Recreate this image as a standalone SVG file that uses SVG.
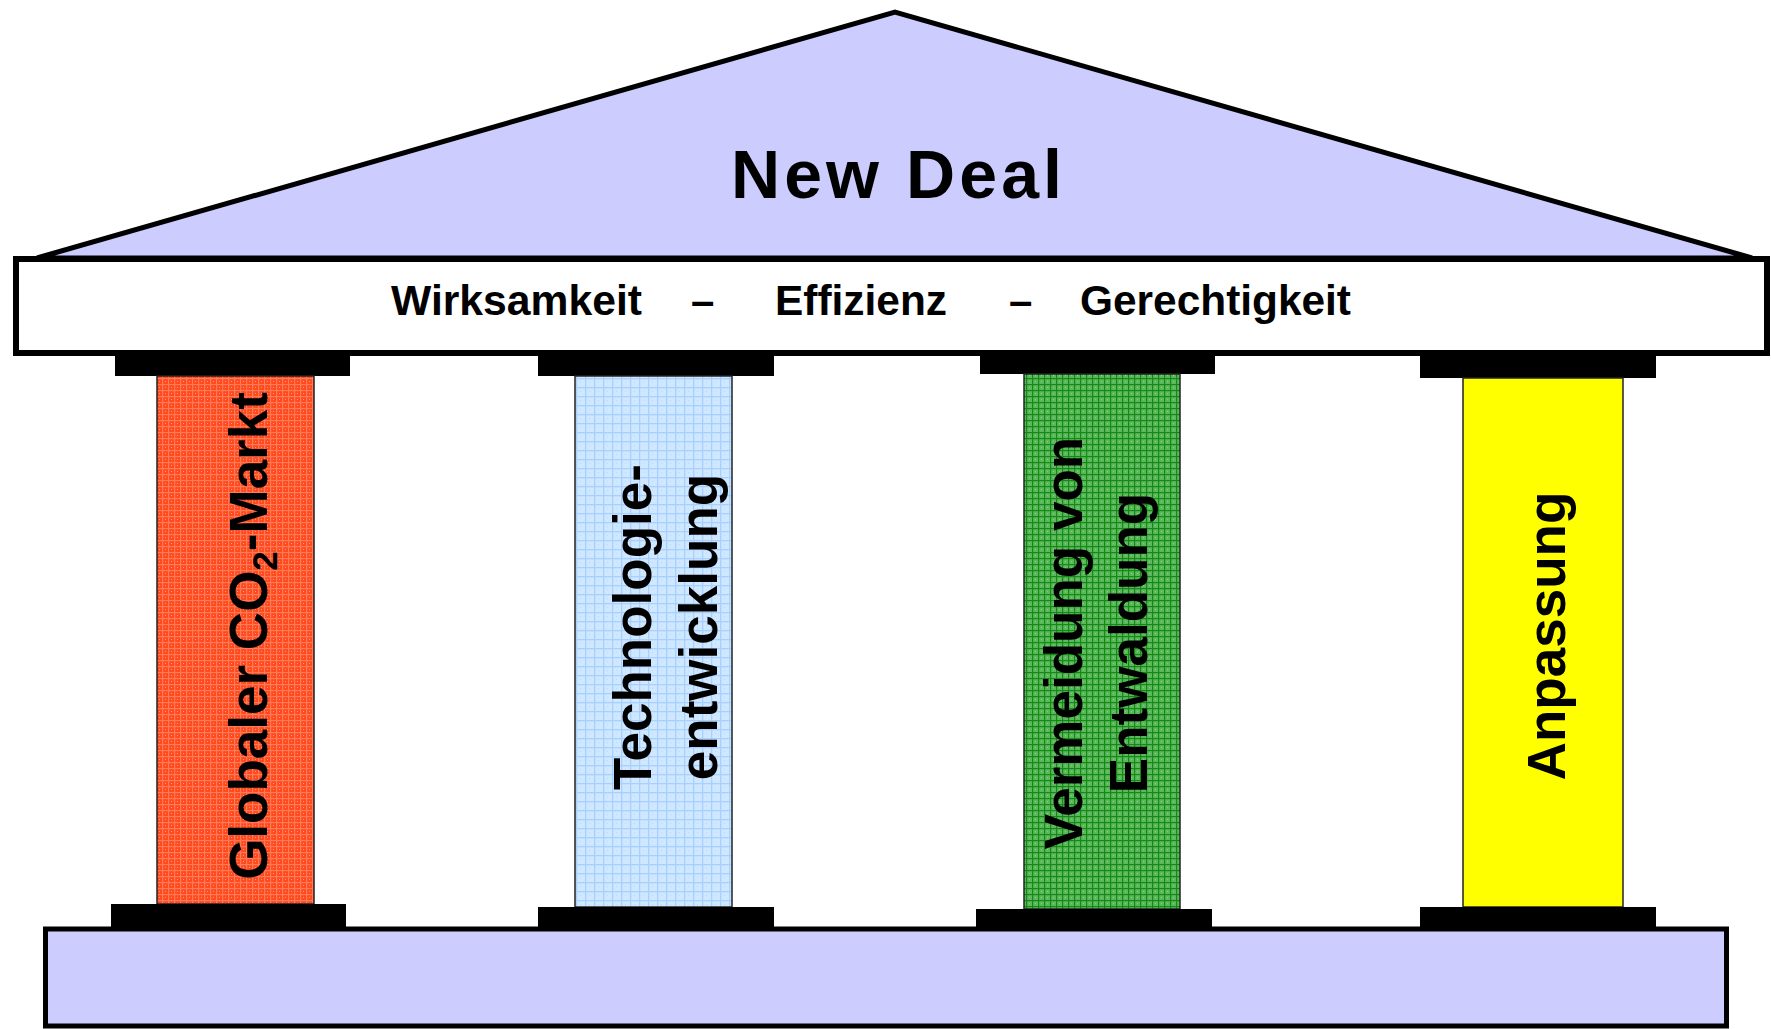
<svg xmlns="http://www.w3.org/2000/svg" width="1771" height="1029" viewBox="0 0 1771 1029">
<style>
.t{font-family:"Liberation Sans",Arial,sans-serif;font-weight:bold;fill:#000}
.col{stroke:#222;stroke-width:1.5}
.blk{fill:#000}
.lilac{fill:#CCCCFF;stroke:#000;stroke-width:5}
</style>
<defs>
<pattern id="pRed" width="6" height="6" patternUnits="userSpaceOnUse">
<rect width="6" height="6" fill="#FF4A1E"/>
<rect x="0" y="0" width="6" height="1.2" fill="#FF7A58"/>
<rect x="0" y="0" width="1.2" height="6" fill="#FF7A58"/>
<rect x="3" y="3" width="1" height="1" fill="#FF9A80"/>
</pattern>
<pattern id="pBlue" width="9" height="9" patternUnits="userSpaceOnUse">
<rect width="9" height="9" fill="#CFE7FF"/>
<rect x="0" y="0" width="9" height="1.3" fill="#A8D0FF"/>
<rect x="0" y="0" width="1.3" height="9" fill="#A8D0FF"/>
<rect x="4" y="4" width="1" height="1" fill="#B8DAFF"/>
</pattern>
<pattern id="pGreen" width="6" height="6" patternUnits="userSpaceOnUse">
<rect width="6" height="6" fill="#5CB85C"/>
<rect x="0" y="0" width="6" height="1.2" fill="#138A13"/>
<rect x="0" y="0" width="1.2" height="6" fill="#138A13"/>
<rect x="3" y="3" width="1" height="1" fill="#88CC88"/>
</pattern>
</defs>

<g id="roof">
<polygon class="lilac" stroke-width="6" points="37,258 895,12 1752,258"/>
<text class="t" x="731" y="198" font-size="68" textLength="331" lengthAdjust="spacing">New Deal</text>
</g>

<g id="entablature">
<rect x="16" y="259" width="1751" height="94" fill="#fff" stroke="#000" stroke-width="6"/>
<text class="t" y="315" font-size="42">
<tspan x="391" textLength="251" lengthAdjust="spacingAndGlyphs">Wirksamkeit</tspan>
<tspan x="691">–</tspan>
<tspan x="775" textLength="172" lengthAdjust="spacingAndGlyphs">Effizienz</tspan>
<tspan x="1009">–</tspan>
<tspan x="1080" textLength="271" lengthAdjust="spacingAndGlyphs">Gerechtigkeit</tspan>
</text>
</g>

<g id="plinth">
<rect class="lilac" x="45.5" y="929" width="1681" height="97"/>
</g>

<g id="pillar1">
<rect class="blk" x="115" y="355" width="235" height="21"/>
<rect class="col" x="157" y="376" width="157" height="528" fill="url(#pRed)"/>
<rect class="blk" x="111" y="904" width="235" height="24"/>
<text class="t" font-size="53" text-anchor="middle" transform="translate(267,636) rotate(-90)">Globaler CO<tspan font-size="35" dy="10">2</tspan><tspan dy="-10">-Markt</tspan></text>
</g>

<g id="pillar2">
<rect class="blk" x="538" y="355" width="236" height="21"/>
<rect class="col" x="575" y="376" width="157" height="531" fill="url(#pBlue)"/>
<rect class="blk" x="538" y="907" width="236" height="21"/>
<text class="t" font-size="53" text-anchor="middle" transform="translate(651,627) rotate(-90)">Technologie-</text>
<text class="t" font-size="53" text-anchor="middle" transform="translate(717,627) rotate(-90)">entwicklung</text>
</g>

<g id="pillar3">
<rect class="blk" x="980" y="355" width="235" height="19"/>
<rect class="col" x="1024" y="374" width="156" height="535" fill="url(#pGreen)"/>
<rect class="blk" x="976" y="909" width="236" height="19"/>
<text class="t" font-size="53" text-anchor="middle" transform="translate(1082,643) rotate(-90)">Vermeidung von</text>
<text class="t" font-size="53" text-anchor="middle" transform="translate(1147,643) rotate(-90)">Entwaldung</text>
</g>

<g id="pillar4">
<rect class="blk" x="1420" y="355" width="236" height="23"/>
<rect class="col" x="1463" y="378" width="160" height="529" fill="#FFFF00"/>
<rect class="blk" x="1420" y="907" width="236" height="21"/>
<text class="t" font-size="53" text-anchor="middle" transform="translate(1565,636) rotate(-90)">Anpassung</text>
</g>

<g id="connectors"></g>
</svg>
